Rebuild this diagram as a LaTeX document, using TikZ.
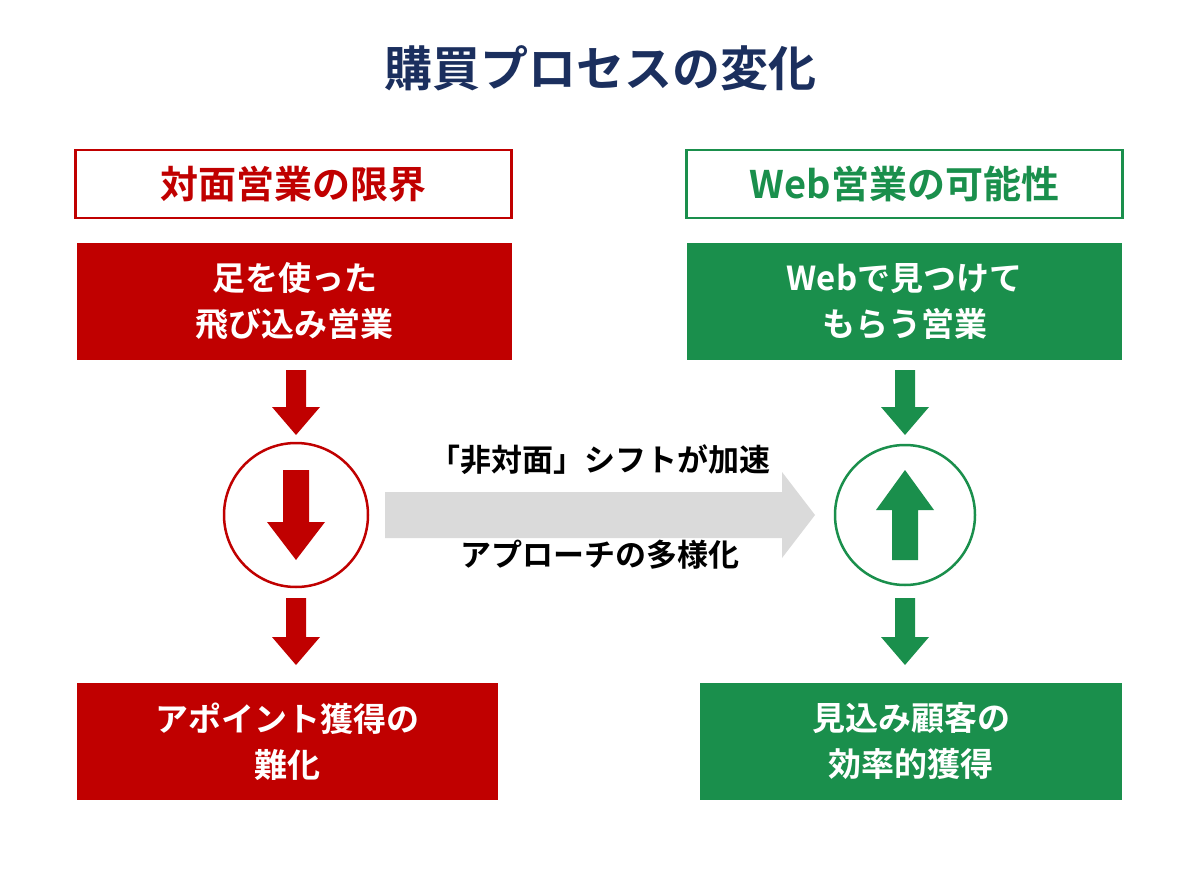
\documentclass[tikz,border=0pt]{standalone}
\usepackage{fontspec}
\setmainfont{Noto Sans CJK JP}[BoldFont={* Bold}]
\begin{document}
\definecolor{navy}{HTML}{1B2F5E}
\definecolor{rd}{HTML}{C00000}
\definecolor{gr}{HTML}{1A8F4C}
\definecolor{gy}{HTML}{DADADA}
\newcommand\myarrow[5]{% x, ytop, ybottom, dir(1 down,-1 up), color
  \fill[#5] (#1-10,#2) -- (#1+10,#2) -- (#1+10,#3-28*#4) -- (#1+24,#3-28*#4) -- (#1,#3) -- (#1-24,#3-28*#4) -- (#1-10,#3-28*#4) -- cycle;}
\begin{tikzpicture}[x=1pt,y=-1pt,
  hdr/.style={draw=#1,line width=2.5pt,fill=white,minimum width=436,minimum height=68,text=#1,font=\bfseries\fontsize{38}{42}\selectfont},
  box/.style={fill=#1,text=white,align=center,font=\bfseries\fontsize{33}{46}\selectfont},
  lbl/.style={font=\bfseries\fontsize{31}{34}\selectfont}]
\fill[white] (0,0) rectangle (1200,896);
\node[text=navy,font=\bfseries\fontsize{48}{52}\selectfont] (title) at (600,68) {購買プロセスの変化};
\node[hdr=rd] (lh) at (293.5,184) {対面営業の限界};
\node[hdr=gr] (rh) at (904.5,184) {Web営業の可能性};
\node[box=rd,minimum width=435,minimum height=117] (l1) at (294.5,301.5) {足を使った\\飛び込み営業};
\node[box=gr,minimum width=435,minimum height=117] (r1) at (904.5,301.5) {Webで見つけて\\もらう営業};
\node[box=rd,minimum width=421,minimum height=117] (l2) at (287.5,741.5) {アポイント獲得の\\難化};
\node[box=gr,minimum width=422,minimum height=117] (r2) at (911,741.5) {見込み顧客の\\効率的獲得};
\node[circle,draw=rd,line width=2.5pt,minimum size=144] (lc) at (296,515) {};
\node[circle,draw=gr,line width=2.5pt,minimum size=140] (rc) at (905,515) {};
\myarrow{296}{370}{435}{1}{rd}
\myarrow{296}{598}{665}{1}{rd}
\myarrow{905}{370}{435}{1}{gr}
\myarrow{905}{598}{665}{1}{gr}
\fill[rd] (283,470) -- (309,470) -- (309,522) -- (325,522) -- (296,560) -- (267,522) -- (283,522) -- cycle;
\fill[gr] (892,560) -- (918,560) -- (918,510) -- (934,510) -- (905,470) -- (876,510) -- (892,510) -- cycle;
\fill[gy] (385,492) -- (782,492) -- (782,472) -- (815,515) -- (782,558) -- (782,538) -- (385,538) -- cycle;
\node[lbl] (t1) at (600,460) {「非対面」シフトが加速};
\node[lbl] (t2) at (600,555) {アプローチの多様化};
\end{tikzpicture}
\end{document}
